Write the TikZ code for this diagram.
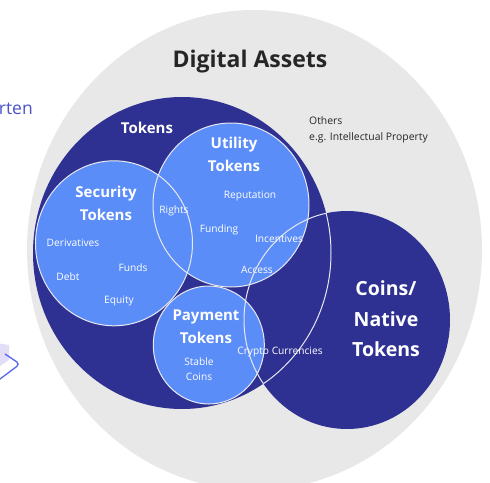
\documentclass[tikz,border=0pt]{standalone}
\usepackage{fontspec}
\setmainfont{Open Sans}
\definecolor{navy}{HTML}{2E3192}
\definecolor{sky}{HTML}{5B8DF8}
\definecolor{pale}{HTML}{E8E8E8}
\definecolor{ink}{HTML}{262626}
\definecolor{edge}{HTML}{E8E8F0}
\definecolor{lilac}{HTML}{4A52C8}
\definecolor{blueline}{HTML}{5566EE}
\definecolor{cube}{HTML}{E2DEF8}
\tikzset{
  x=1pt,y=-1pt,
  ringline/.style={draw=edge,line width=1pt},
  big/.style={text=white,font=\bfseries\fontsize{15}{23}\selectfont,align=center},
  small/.style={text=white,font=\fontsize{10.2}{15}\selectfont,align=center},
}
\begin{document}
\begin{tikzpicture}
\useasboundingbox (0,0) rectangle (490,482);
\begin{scope}
\clip (0,0) rectangle (490,482);
\fill[pale] (254.5,250) ellipse [x radius=227.5,y radius=240];
\fill[cube] (-10,342) -- (9,345) -- (9,360) -- (0,366) -- (-10,366) -- cycle;
\draw[blueline,line width=1.3pt,rounded corners=4pt] (5,354) -- (20,364) -- (-4,382);
\fill[navy] (182,253) ellipse [x radius=149,y radius=156];
\fill[navy] (347,320) ellipse [x radius=103,y radius=109];
\fill[sky] (114,243.3) ellipse [x radius=78.5,y radius=82.5];
\fill[sky] (231,205) ellipse [x radius=78,y radius=82];
\fill[sky] (208.8,345) ellipse [x radius=55.5,y radius=59];
\draw[ringline] (114,243.3) ellipse [x radius=78.5,y radius=82.5];
\draw[ringline] (231,205) ellipse [x radius=78,y radius=82];
\draw[ringline] (208.8,345) ellipse [x radius=55.5,y radius=59];
\begin{scope}
\clip (347,320) ellipse [x radius=103,y radius=109];
\draw[ringline] (182,253) ellipse [x radius=149,y radius=156];
\end{scope}
\begin{scope}
\clip (182,253) ellipse [x radius=149,y radius=156];
\draw[ringline] (347,320) ellipse [x radius=103,y radius=109];
\end{scope}
\end{scope}
\node[text=ink,font=\bfseries\fontsize{23}{28}\selectfont] (t1) at (250,62) {Digital Assets};
\node[big] (t2) at (147,127.5) {Tokens};
\node[big] (t3) at (234,154) {Utility\\Tokens};
\node[big] (t4) at (106,203) {Security\\Tokens};
\node[big] (t5) at (206,327) {Payment\\Tokens};
\node[text=white,font=\bfseries\fontsize{19.5}{30.5}\selectfont,align=center] (t6) at (386,319) {Coins/\\Native\\Tokens};
\node[text=ink,font=\fontsize{10.4}{16}\selectfont,align=left,anchor=west,inner sep=0pt] (t7) at (309,130) {Others\\e.g. Intellectual Property};
\node[small] (a1) at (250,195.5) {Reputation};
\node[small] (a2) at (219,229.5) {Funding};
\node[small] (a3) at (279,239) {Incentives};
\node[small] (a4) at (257,270) {Access};
\node[small] (a5) at (174,211) {Rights};
\node[small] (a6) at (73,243) {Derivatives};
\node[small] (a7) at (133,268) {Funds};
\node[small] (a8) at (68,277) {Debt};
\node[small] (a9) at (119,300.5) {Equity};
\node[small] (a10) at (199,369.5) {Stable\\Coins};
\node[small] (a11) at (280,351.5) {Crypto Currencies};
\node[text=lilac,font=\fontsize{17.5}{20}\selectfont,anchor=east,inner sep=0pt] (t8) at (33,109) {rten};
\end{tikzpicture}
\end{document}
